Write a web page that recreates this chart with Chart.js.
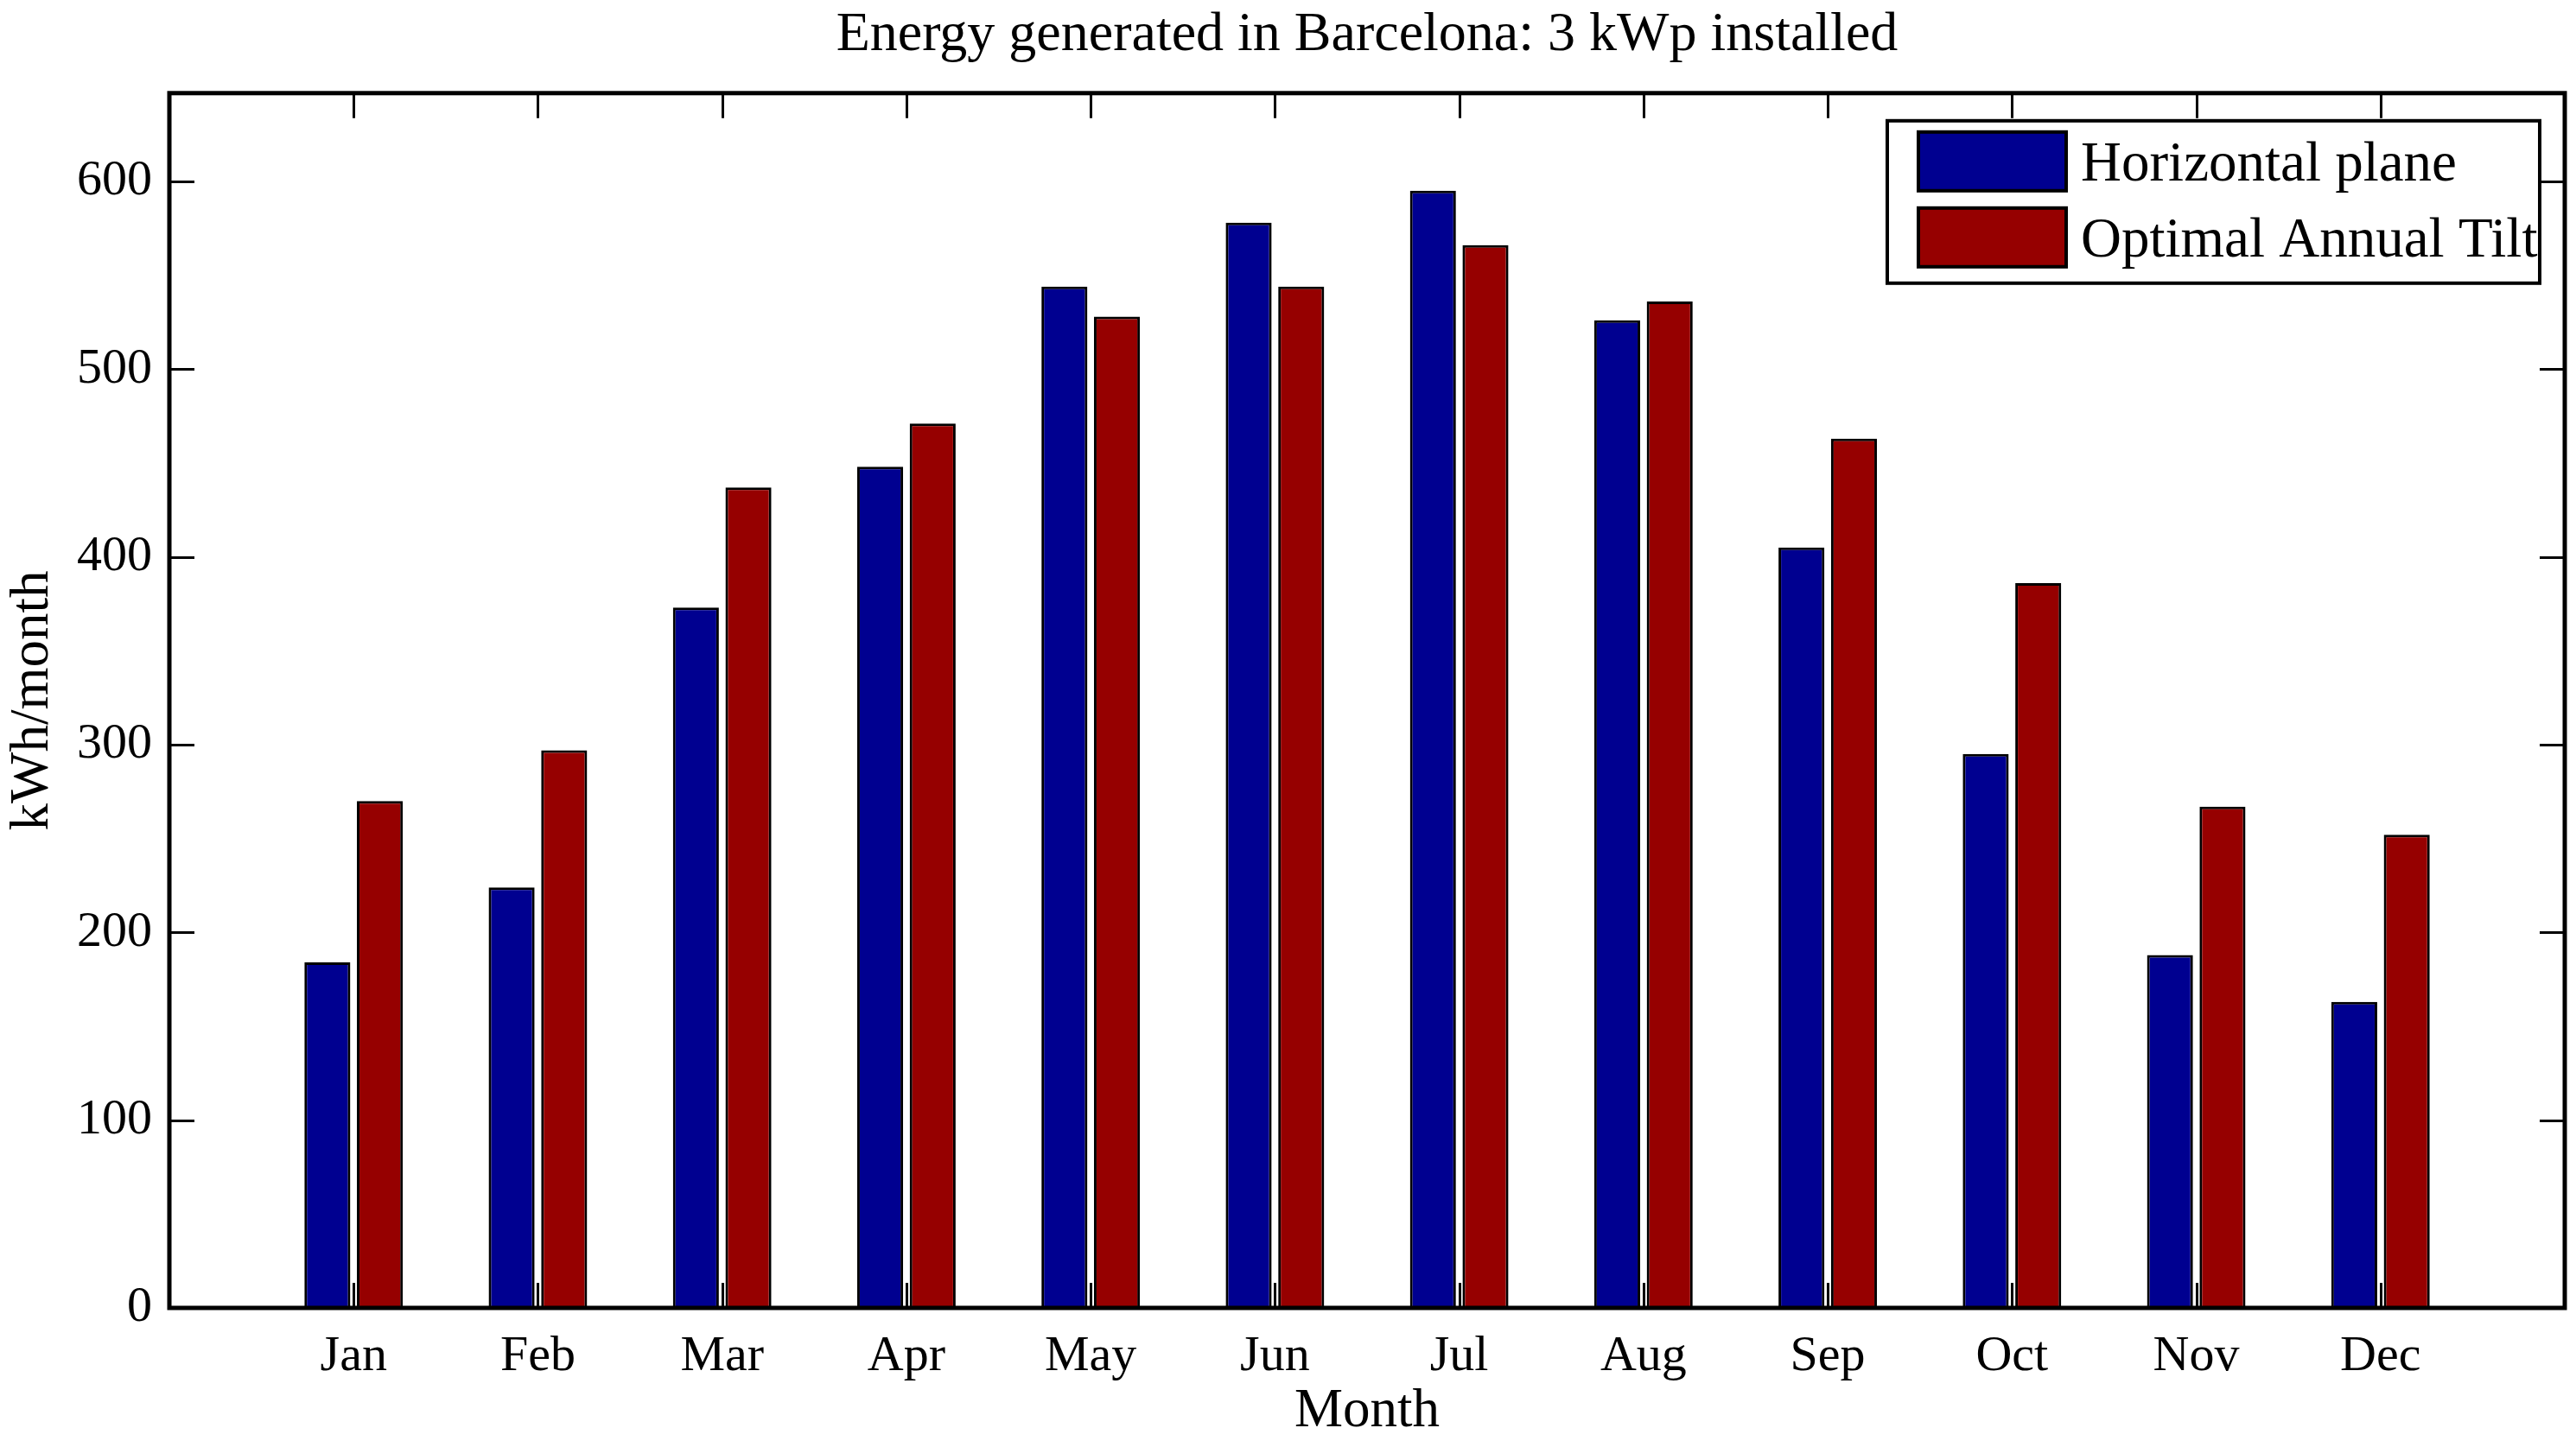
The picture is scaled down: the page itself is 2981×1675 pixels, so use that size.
<!DOCTYPE html>
<html>
<head>
<meta charset="utf-8">
<title>Energy generated in Barcelona</title>
<script src="https://cdn.jsdelivr.net/npm/chart.js@4"></script>
<style>
    html, body { margin: 0; padding: 0; background: #ffffff; }
    #wrap { width: 2981px; height: 1675px; position: relative; }
</style>
</head>
<body>
<div id="wrap"><canvas id="energy-chart"></canvas></div>
<script>
// values (kWh/month)
const months = ['Jan', 'Feb', 'Mar', 'Apr', 'May', 'Jun', 'Jul', 'Aug', 'Sep', 'Oct', 'Nov', 'Dec'];
const horizontalPlane = [184, 224, 373, 448, 544, 578, 595, 526, 405, 295, 188, 163];
const optimalTilt = [270, 297, 437, 471, 528, 544, 566, 536, 463, 386, 267, 252];
const yTicks = [0, 100, 200, 300, 400, 500, 600];

const FONT = "'Liberation Serif', 'Times New Roman', serif";

// one empty slot on each side, like the original axis (0..13)
const labels = ['', ...months, ''];
const pad = arr => [null, ...arr, null];

// box round the plot, inward ticks on all four sides, legend inside the axes
const matlabFrame = {
    id: 'matlabFrame',
    afterDatasetsDraw(chart) {
        const ctx = chart.ctx;
        const a = chart.chartArea;
        const x = chart.scales.x;
        const y = chart.scales.y;
        const len = 29;
        ctx.save();
        ctx.strokeStyle = '#000';
        ctx.lineWidth = 3;
        ctx.beginPath();
        for (let i = 1; i <= months.length; i++) {
            const px = Math.round(x.getPixelForValue(i)) + 0.5;
            ctx.moveTo(px, a.bottom); ctx.lineTo(px, a.bottom - len);
            ctx.moveTo(px, a.top); ctx.lineTo(px, a.top + len);
        }
        yTicks.forEach(v => {
            const py = Math.round(y.getPixelForValue(v)) + 0.5;
            ctx.moveTo(a.left, py); ctx.lineTo(a.left + len, py);
            ctx.moveTo(a.right, py); ctx.lineTo(a.right - len, py);
        });
        ctx.stroke();
        ctx.lineWidth = 5;
        ctx.strokeRect(a.left, a.top, a.right - a.left, a.bottom - a.top);
        ctx.restore();
    },
    afterDraw(chart) {
        const ctx = chart.ctx;
        const a = chart.chartArea;
        const w = 755, h = 188;
        const bx = a.right - 29 - w;
        const by = a.top + 32;
        ctx.save();
        ctx.fillStyle = '#fff';
        ctx.fillRect(bx, by, w, h);
        ctx.lineWidth = 4;
        ctx.strokeStyle = '#000';
        ctx.strokeRect(bx, by, w, h);
        ctx.font = '65px ' + FONT;
        ctx.textBaseline = 'middle';
        chart.data.datasets.forEach((ds, i) => {
            const cy = by + 47 + i * 88;
            ctx.fillStyle = ds.backgroundColor;
            ctx.fillRect(bx + 36, cy - 34, 171, 68);
            ctx.lineWidth = 4;
            ctx.strokeRect(bx + 36, cy - 34, 171, 68);
            ctx.fillStyle = '#000';
            ctx.fillText(ds.label, bx + 224, cy + 5);
        });
        ctx.restore();
    }
};

new Chart(document.getElementById('energy-chart'), {
    type: 'bar',
    data: {
        labels: labels,
        datasets: [{
            label: 'Horizontal plane',
            data: pad(horizontalPlane),
            backgroundColor: '#000090',
            borderColor: '#000000',
            borderWidth: 3
        }, {
            label: 'Optimal Annual Tilt',
            data: pad(optimalTilt),
            backgroundColor: '#960000',
            borderColor: '#000000',
            borderWidth: 3
        }]
    },
    options: {
        responsive: true,
        maintainAspectRatio: false,
        animation: false,
        categoryPercentage: 0.57,
        barPercentage: 0.875,
        layout: {
            padding: { left: 0, right: 13, top: 0, bottom: 3 }
        },
        scales: {
            x: {
                offset: false,
                grid: { display: false, drawTicks: false },
                border: { display: false },
                ticks: {
                    color: '#000',
                    // tick padding also pads the right edge, so push labels down with lineHeight
                    font: { family: FONT, size: 58, lineHeight: 1.5 },
                    padding: 13,
                    autoSkip: false,
                    maxRotation: 0
                },
                title: {
                    display: true,
                    text: 'Month',
                    color: '#000',
                    font: { family: FONT, size: 63 },
                    padding: { top: 0, bottom: 0 }
                },
                afterFit(scale) { scale.height = 158; }
            },
            y: {
                min: 0,
                max: 647,
                grid: { display: false, drawTicks: false },
                border: { display: false },
                ticks: {
                    stepSize: 100,
                    color: '#000',
                    font: { family: FONT, size: 58 },
                    padding: 20,
                    callback: v => (yTicks.includes(v) ? v : '')
                },
                title: {
                    display: true,
                    text: 'kWh/month',
                    color: '#000',
                    font: { family: FONT, size: 63 },
                    padding: { top: 1, bottom: 0 }
                },
                afterFit(scale) { scale.width = 196; }
            }
        },
        plugins: {
            legend: { display: false },
            tooltip: { enabled: false },
            title: {
                display: true,
                fullSize: false,
                text: 'Energy generated in Barcelona: 3 kWp installed',
                color: '#000',
                font: { family: FONT, size: 64, weight: 'normal' },
                padding: { top: 3, bottom: 28 }
            }
        }
    },
    plugins: [matlabFrame]
});
</script>
</body>
</html>
